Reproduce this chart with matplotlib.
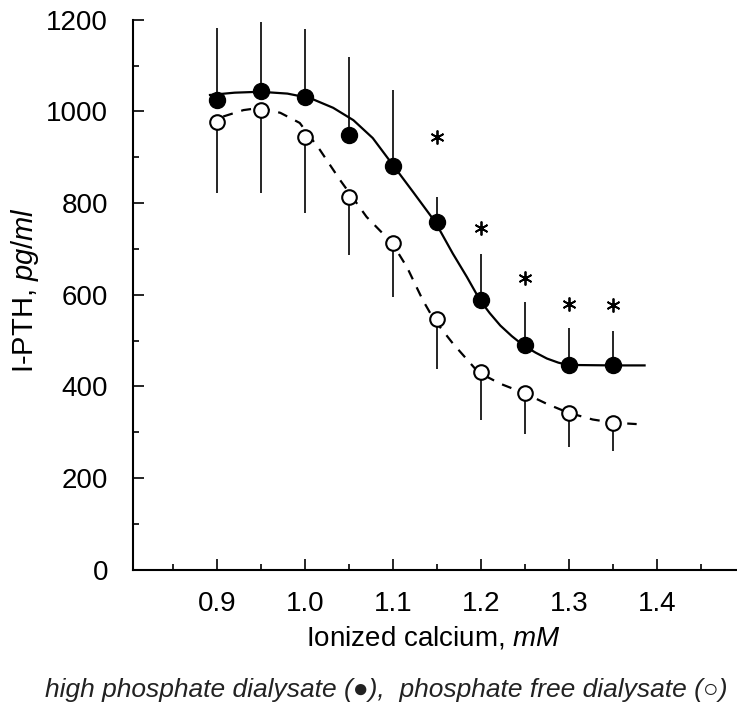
"""I-PTH vs ionized calcium, high phosphate vs phosphate free dialysate."""
import matplotlib
matplotlib.use("Agg")
import matplotlib.pyplot as plt
from matplotlib.ticker import MultipleLocator, FixedLocator

plt.rcParams["font.family"] = ["Liberation Sans", "DejaVu Sans"]
plt.rcParams["mathtext.fontset"] = "custom"
plt.rcParams["mathtext.rm"] = "Liberation Sans"
plt.rcParams["mathtext.it"] = "Liberation Sans:italic"

# measured points
calcium = [0.90, 0.95, 1.00, 1.05, 1.10, 1.15, 1.20, 1.25, 1.30, 1.35]
high_phos = [1025, 1045, 1031, 949, 881, 759, 588, 490, 446, 446]
high_phos_err = [157, 150, 150, 170, 166, 54, 102, 94, 81, 76]
free_phos = [978, 1003, 945, 814, 713, 548, 431, 385, 343, 321]
free_phos_err = [156, 181, 167, 128, 118, 109, 105, 88, 76, 61]

# significance markers
star_x = [1.15, 1.20, 1.25, 1.30, 1.35]
star_y = [944, 745, 636, 581, 577]

# fitted curves
fit_high_x = [0.892, 0.920, 0.949, 0.980, 1.006, 1.032, 1.055, 1.077, 1.100,
              1.123, 1.148, 1.168, 1.184, 1.199, 1.210, 1.222, 1.235, 1.248,
              1.262, 1.275, 1.288, 1.299, 1.350, 1.386]
fit_high_y = [1036, 1041, 1043, 1039, 1029, 1008, 981, 942, 883,
              824, 759, 690, 639, 588, 560, 533, 510, 490,
              474, 461, 452, 447, 446, 446]
fit_free_x = [0.907, 0.930, 0.949, 0.972, 0.994, 1.017, 1.040, 1.070, 1.099,
              1.116, 1.134, 1.146, 1.168, 1.197, 1.222, 1.250, 1.275, 1.299,
              1.327, 1.350, 1.377]
fit_free_y = [989, 1003, 1008, 997, 975, 916, 850, 770, 713,
              660, 588, 548, 494, 431, 406, 385, 362, 343,
              328, 321, 318]

x_ticks = [0.9, 1.0, 1.1, 1.2, 1.3, 1.4]
x_tick_labels = ["0.9", "1.0", "1.1", "1.2", "1.3", "1.4"]
y_ticks = [0, 200, 400, 600, 800, 1000, 1200]


def draw():
    fig = plt.figure(figsize=(7.37, 7.07), dpi=100)
    ax = fig.add_axes([0.1805, 0.194, 0.818, 0.778])

    # curves
    ax.plot(fit_high_x, fit_high_y, color="black", lw=1.6, zorder=2)
    ax.plot(fit_free_x, fit_free_y, color="black", lw=1.6,
            dashes=(4.5, 4), zorder=2)

    # one-sided error bars: up for filled, down for open
    ax.errorbar(calcium, high_phos, yerr=[[0] * len(high_phos), high_phos_err],
                fmt="none", ecolor="black", elinewidth=1.2, capsize=0, zorder=1)
    ax.errorbar(calcium, free_phos, yerr=[free_phos_err, [0] * len(free_phos)],
                fmt="none", ecolor="black", elinewidth=1.2, capsize=0, zorder=1)

    ax.plot(calcium, high_phos, "o", ms=11.5, color="black", zorder=3)
    ax.plot(calcium, free_phos, "o", ms=10.5, mfc="white", mec="black",
            mew=1.5, zorder=3)

    ax.plot(star_x, star_y, ls="none", marker=(6, 2, 0), ms=10,
            mew=1.3, color="black", zorder=3)

    ax.set_xlim(0.8045, 1.4898)
    ax.set_ylim(0, 1200)

    ax.spines["top"].set_visible(False)
    ax.spines["right"].set_visible(False)
    for s in ("left", "bottom"):
        ax.spines[s].set_linewidth(1.5)

    ax.xaxis.set_major_locator(FixedLocator(x_ticks))
    ax.set_xticklabels(x_tick_labels)
    ax.xaxis.set_minor_locator(MultipleLocator(0.05))
    ax.yaxis.set_major_locator(FixedLocator(y_ticks))
    ax.yaxis.set_minor_locator(MultipleLocator(100))

    ax.tick_params(which="both", direction="in", width=1.2, labelsize=20)
    ax.tick_params(which="major", length=8)
    ax.tick_params(which="minor", length=4.5)
    ax.tick_params(axis="y", pad=18)
    ax.tick_params(axis="x", pad=15)

    fig.text(25 / 737, 1 - 290 / 707, r"I-PTH, $\mathit{pg/ml}$",
             rotation=90, ha="center", va="center", fontsize=21)
    fig.text(433 / 737, 1 - 638 / 707, r"Ionized calcium, $\mathit{mM}$",
             ha="center", va="center", fontsize=20)
    fig.text(386 / 737, 1 - 690 / 707,
             "high phosphate dialysate (\u25cf),  phosphate free dialysate (\u25cb)",
             ha="center", va="center", fontsize=19, style="italic",
             color="#222222")

    fig.savefig("out.png", dpi=100)
    plt.close(fig)


if __name__ == "__main__":
    draw()
